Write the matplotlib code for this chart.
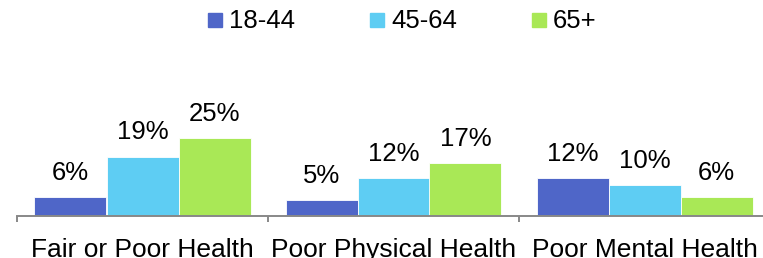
import matplotlib.pyplot as plt
from matplotlib.patches import Rectangle
import numpy as np

categories = ["Fair or Poor Health", "Poor Physical Health", "Poor Mental Health"]
age_groups = ["18-44", "45-64", "65+"]
vals_18_44 = [6, 5, 12]
vals_45_64 = [19, 12, 10]
vals_65 = [25, 17, 6]
colors = ["#4F66C8", "#5ECDF3", "#A9E856"]

plt.rcParams["font.family"] = ["Liberation Sans", "DejaVu Sans"]

W, H = 763, 258
fig = plt.figure(figsize=(W / 100, H / 100), dpi=100)
# axes spans px 17..770 horizontally, bottom (y=0) at 216 px from top
ax = fig.add_axes([17 / W, 1 - 216 / H, 753 / W, 156 / H])

x = np.arange(len(categories))
bw = 72 / 251
series = [vals_18_44, vals_45_64, vals_65]
for i, (vals, c, lab) in enumerate(zip(series, colors, age_groups)):
    pos = x + (i - 1) * bw
    bars = ax.bar(pos, vals, bw, color=c, label=lab, edgecolor="white", linewidth=0.6)
    for b, v in zip(bars, vals):
        ax.annotate(f"{v}%", (b.get_x() + b.get_width() / 2, v),
                    xytext=(0, 12.3), textcoords="offset points",
                    ha="center", va="baseline", fontsize=18.5)

ax.set_xlim(-0.5, 2.5)
ax.set_ylim(0, 156 / 3.13)
ax.set_yticks([])
for s in ["top", "right", "left"]:
    ax.spines[s].set_visible(False)
ax.spines["bottom"].set_color("#888888")
ax.spines["bottom"].set_linewidth(1.4)

ax.set_xticks(x)
ax.set_xticklabels(categories, fontsize=19)
ax.tick_params(axis="x", which="major", length=0, pad=16)
ax.set_xticks([-0.5, 0.5, 1.5, 2.5], minor=True)
ax.tick_params(axis="x", which="minor", length=4, width=1.4, color="#888888")

# legend drawn by hand: square marker + label, one column every 162 px
for i, (lab, c) in enumerate(zip(age_groups, colors)):
    x0 = 208 + i * 162
    fig.patches.append(Rectangle((x0 / W, 1 - 27 / H), 14 / W, 14 / H,
                                 transform=fig.transFigure, color=c))
    fig.text((x0 + 21) / W, 1 - 28 / H, lab, fontsize=18.5,
             ha="left", va="baseline")

fig.savefig("out.png", dpi=100)
